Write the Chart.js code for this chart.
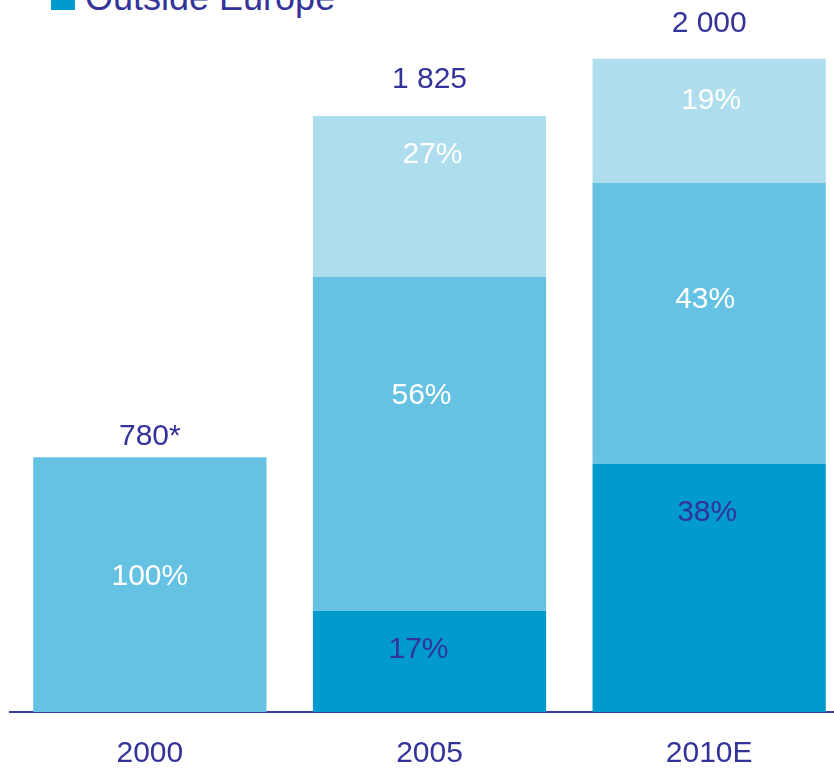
<!DOCTYPE html>
<html>
<head>
<meta charset="utf-8">
<script src="https://cdn.jsdelivr.net/npm/chart.js@4"></script>
<style>
  html, body { margin: 0; padding: 0; background: #fff; overflow: hidden; }
  body { width: 834px; height: 770px; position: relative; font-family: "Liberation Sans", Arial, sans-serif; }
  #chart { position: absolute; left: 0; top: 0; }
  .legend-box { position: absolute; left: 51px; top: -14px; width: 24px; height: 24px; background: #009BCC; }
  .legend-text { position: absolute; left: 85px; top: -20px; font-size: 36px; line-height: 36px; color: #333399; white-space: nowrap; }
</style>
</head>
<body>
<div class="legend-box"></div>
<div class="legend-text">Outside Europe</div>
<canvas id="chart" width="849" height="796"></canvas>
<script>
// Data
const years = ["2000", "2005", "2010E"];
const totals = [780, 1825, 2000];
const totalLabels = ["780*", "1 825", "2 000"];

// share of each year's total (%), bottom to top
const outsideEurope = [0, 17, 38];
const restOfEurope = [100, 56, 43];
const nordic = [0, 27, 19];

// label placement: fraction of segment height from its top, and x nudge in px
const labelFrac = {
  outside: [0.5, 0.37, 0.19],
  rest: [0.46, 0.35, 0.41],
  nordic: [0.5, 0.23, 0.32]
};
const labelNudge = {
  outside: [0, -11, -2],
  rest: [0, -8, -4],
  nordic: [0, 3, 2]
};
const totalGap = [23, 38, 37];

const navy = "#333399";
const font = "'Liberation Sans', Arial, sans-serif";

function toValues(pcts) {
  return pcts.map((p, i) => p * totals[i] / 100);
}

const barLabels = {
  id: "barLabels",
  afterDatasetsDraw(chart) {
    const ctx = chart.ctx;
    ctx.save();
    ctx.font = "30px " + font;
    ctx.textAlign = "center";
    ctx.textBaseline = "middle";

    chart.data.datasets.forEach((ds, di) => {
      const meta = chart.getDatasetMeta(di);
      meta.data.forEach((el, i) => {
        const pct = ds.pcts[i];
        if (!pct) return;
        const frac = labelFrac[ds.key][i];
        const y = el.y + (el.base - el.y) * frac + 2;
        ctx.fillStyle = ds.key === "outside" ? navy : "#ffffff";
        ctx.fillText(pct + "%", el.x + labelNudge[ds.key][i], y);
      });
    });

    // totals above the bars
    const yScale = chart.scales.y;
    const meta0 = chart.getDatasetMeta(0);
    ctx.fillStyle = navy;
    totals.forEach((t, i) => {
      const x = meta0.data[i].x;
      const y = yScale.getPixelForValue(t) - totalGap[i] + 2;
      ctx.fillText(totalLabels[i], x, y);
    });
    ctx.restore();
  }
};

new Chart(document.getElementById("chart"), {
  type: "bar",
  data: {
    labels: years,
    datasets: [
      { label: "Outside Europe", key: "outside", pcts: outsideEurope, data: toValues(outsideEurope), backgroundColor: "#009BCC" },
      { label: "Rest of Europe", key: "rest", pcts: restOfEurope, data: toValues(restOfEurope), backgroundColor: "#66C2E2" },
      { label: "Nordic", key: "nordic", pcts: nordic, data: toValues(nordic), backgroundColor: "#AEDEEE" }
    ]
  },
  options: {
    responsive: false,
    animation: false,
    devicePixelRatio: 1,
    layout: { padding: { left: 10, right: 0, top: 0, bottom: 0 } },
    datasets: {
      bar: { categoryPercentage: 1, barPercentage: 0.834, borderWidth: 0 }
    },
    plugins: {
      legend: { display: false },
      tooltip: { enabled: false }
    },
    scales: {
      x: {
        stacked: true,
        grid: { display: false, drawTicks: false },
        border: { display: true, color: "#3b3ba5", width: 2 },
        ticks: { color: navy, padding: 24, font: { family: font, size: 30, lineHeight: 1.2 } }
      },
      y: {
        stacked: true,
        display: false,
        min: 0,
        max: 2180
      }
    }
  },
  plugins: [barLabels]
});
</script>
</body>
</html>
